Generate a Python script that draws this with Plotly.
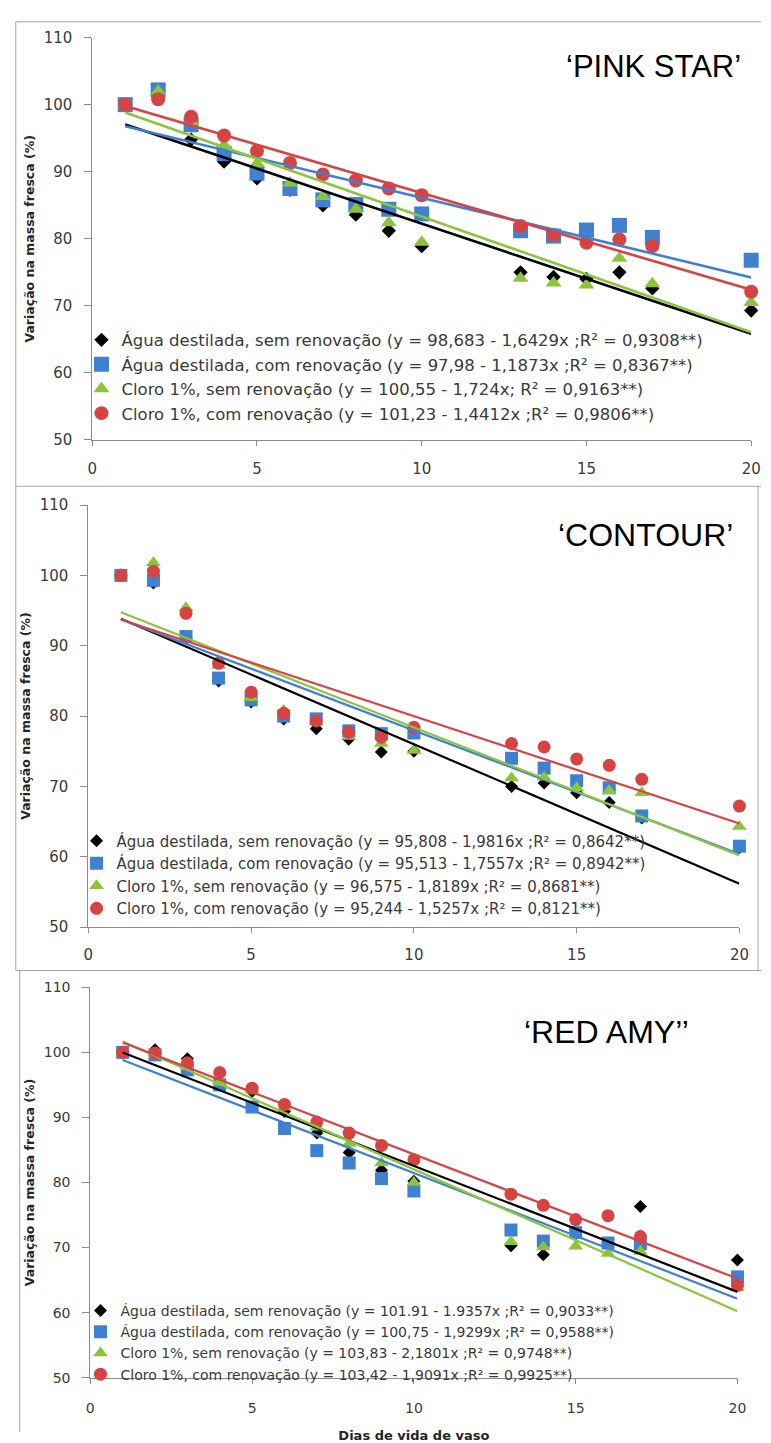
import plotly.graph_objects as go

W, H = 771, 1443

days = [1, 2, 3, 4, 5, 6, 7, 8, 9, 10, 13, 14, 15, 16, 17, 20]
x_ticks = [0, 5, 10, 15, 20]
y_ticks = [50, 60, 70, 80, 90, 100, 110]

titles = ["‘PINK STAR’", "‘CONTOUR’", "‘RED AMY’’"]
y_title = "Variação na massa fresca (%)"
x_title = "Dias de vida de vaso"

# ---- 'PINK STAR' ----
pink_agua_sem = [100, 101.9, 94.8, 91.5, 89.0, 87.3, 85.0, 83.6, 81.2, 78.9, 75.0, 74.3, 74.0, 75.0, 72.6, 69.3]
pink_agua_com = [100, 102.2, 97.0, 92.7, 89.8, 87.5, 85.8, 85.1, 84.4, 83.7, 81.2, 80.4, 81.3, 82.0, 80.2, 76.8]
pink_cloro_sem = [100, 102.0, 97.5, 94.0, 91.2, 88.3, 86.3, 84.4, 82.4, 79.5, 74.1, 73.4, 73.1, 77.1, 73.3, 70.5]
pink_cloro_com = [100, 100.8, 98.2, 95.4, 93.1, 91.3, 89.6, 88.7, 87.5, 86.5, 81.9, 80.6, 79.4, 79.9, 78.9, 72.1]
pink_intercepts = [98.683, 97.98, 100.55, 101.23]
pink_slopes = [-1.6429, -1.1873, -1.724, -1.4412]
pink_labels = [
    "Água destilada, sem renovação (y = 98,683 - 1,6429x ;R² = 0,9308**)",
    "Água destilada, com renovação (y = 97,98 - 1,1873x ;R² = 0,8367**)",
    "Cloro 1%, sem renovação (y = 100,55 - 1,724x; R² = 0,9163**)",
    "Cloro 1%, com renovação (y = 101,23 - 1,4412x ;R² = 0,9806**)",
]

# ---- 'CONTOUR' ----
contour_agua_sem = [100, 98.9, 91.0, 85.0, 82.0, 79.6, 78.2, 76.7, 74.9, 75.0, 70.0, 70.5, 69.1, 67.7, 65.5, 61.3]
contour_agua_com = [100, 99.3, 91.3, 85.4, 82.3, 80.0, 79.6, 77.9, 77.5, 77.6, 74.0, 72.6, 70.8, 69.8, 65.8, 61.5]
contour_cloro_sem = [100, 101.8, 95.4, 87.2, 82.6, 80.8, 79.4, 77.1, 76.1, 75.1, 71.2, 71.3, 69.8, 69.4, 69.1, 64.3]
contour_cloro_com = [100, 100.6, 94.6, 87.5, 83.4, 80.4, 79.3, 77.7, 77.0, 78.4, 76.1, 75.6, 73.9, 73.0, 71.0, 67.2]
contour_intercepts = [95.808, 95.513, 96.575, 95.244]
contour_slopes = [-1.9816, -1.7557, -1.8189, -1.5257]
contour_labels = [
    "Água destilada, sem renovação (y = 95,808 - 1,9816x ;R² = 0,8642**)",
    "Água destilada, com renovação (y = 95,513 - 1,7557x ;R² = 0,8942**)",
    "Cloro 1%, sem renovação (y = 96,575 - 1,8189x ;R² = 0,8681**)",
    "Cloro 1%, com renovação (y = 95,244 - 1,5257x ;R² = 0,8121**)",
]

# ---- 'RED AMY' ----
redamy_agua_sem = [100, 100.4, 99.0, 95.4, 94.0, 90.9, 87.6, 84.6, 81.9, 80.2, 70.3, 68.9, 72.1, 70.6, 76.3, 68.1]
redamy_agua_com = [100, 99.6, 97.3, 95.0, 91.6, 88.3, 84.9, 83.0, 80.6, 78.7, 72.7, 71.0, 72.3, 70.7, 70.6, 65.5]
redamy_cloro_sem = [100, 99.7, 97.8, 95.4, 94.3, 91.6, 88.5, 86.0, 83.0, 80.0, 70.9, 70.1, 70.2, 69.1, 69.4, 63.8]
redamy_cloro_com = [100, 99.9, 98.4, 96.9, 94.5, 92.0, 89.3, 87.6, 85.7, 83.5, 78.2, 76.5, 74.3, 74.9, 71.7, 64.2]
redamy_intercepts = [101.91, 100.75, 103.83, 103.42]
redamy_slopes = [-1.9357, -1.9299, -2.1801, -1.9091]
redamy_labels = [
    "Água destilada, sem renovação (y = 101.91 - 1.9357x ;R² = 0,9033**)",
    "Água destilada, com renovação (y = 100,75 - 1,9299x ;R² = 0,9588**)",
    "Cloro 1%, sem renovação (y = 103,83 - 2,1801x ;R² = 0,9748**)",
    "Cloro 1%, com renovação (y = 103,42 - 1,9091x ;R² = 0,9925**)",
]

panels = [
    dict(series=[pink_agua_sem, pink_agua_com, pink_cloro_sem, pink_cloro_com],
         a=pink_intercepts, b=pink_slopes, labels=pink_labels),
    dict(series=[contour_agua_sem, contour_agua_com, contour_cloro_sem, contour_cloro_com],
         a=contour_intercepts, b=contour_slopes, labels=contour_labels),
    dict(series=[redamy_agua_sem, redamy_agua_com, redamy_cloro_sem, redamy_cloro_com],
         a=redamy_intercepts, b=redamy_slopes, labels=redamy_labels),
]

# ---- styling / layout (pixels) ----
colors = ["#000000", "#3F80D0", "#8CC43C", "#D74343"]
symbols = ["diamond", "square", "triangle-up", "circle"]
msizes = [[11, 15, 14, 14], [10, 13, 13, 13], [10, 13, 13, 13]]
line_w = [2.6, 2.2, 2.2]

# plot-area boxes: (x0, x1, ytop, ybottom) in pixels
boxes = [(89, 761, 29, 437), (85, 749, 503, 931), (87, 747, 992, 1388)]
tick_sizes = [15, 15, 14]
x_label_standoff = [10, 9, 12]
legend_fonts = [16.5, 15, 14]
legend_pos = [(78, 318), (73, 827), (77, 1304)]
title_pos = [(661, 58), (653, 533), (613, 1037)]
title_sizes = [31, 32, 32]


def fx(px):
    return px / W


def fy(py):
    return 1 - py / H


fig = go.Figure()
leg_names = ["legend", "legend2", "legend3"]

for p, panel in enumerate(panels):
    xa = "x" if p == 0 else f"x{p+1}"
    ya = "y" if p == 0 else f"y{p+1}"
    for i in range(4):
        fig.add_trace(go.Scatter(
            x=days, y=panel["series"][i], mode="markers",
            name=panel["labels"][i], xaxis=xa, yaxis=ya,
            legend=leg_names[p],
            marker=dict(symbol=symbols[i], size=msizes[p][i], color=colors[i],
                        line=dict(width=0)),
            cliponaxis=False,
        ))
    for i in range(4):
        xs = [days[0], days[-1]]
        ys = [panel["a"][i] + panel["b"][i] * d for d in xs]
        fig.add_trace(go.Scatter(
            x=xs, y=ys, mode="lines", showlegend=False, xaxis=xa, yaxis=ya,
            line=dict(color=colors[i], width=line_w[p]), hoverinfo="skip",
        ))

layout = dict(
    width=W, height=H,
    margin=dict(l=0, r=0, t=0, b=0),
    paper_bgcolor="white", plot_bgcolor="white",
    showlegend=True,
)

axis_color = "#8C8C8C"
tick_font_color = "#3A3A3A"

for p in range(3):
    x0, x1, yt, yb = boxes[p]
    xk = "xaxis" if p == 0 else f"xaxis{p+1}"
    yk = "yaxis" if p == 0 else f"yaxis{p+1}"
    ya = "y" if p == 0 else f"y{p+1}"
    xa = "x" if p == 0 else f"x{p+1}"
    xaxis = dict(
        domain=[fx(x0), fx(x1)], anchor=ya, range=[0, 20],
        tickmode="array", tickvals=x_ticks, ticktext=[str(t) for t in x_ticks],
        showline=True, linecolor=axis_color, linewidth=1,
        ticks="outside", ticklen=5, tickcolor=axis_color,
        showgrid=False, zeroline=False, ticklabelstandoff=x_label_standoff[p],
        tickfont=dict(family="DejaVu Sans", size=tick_sizes[p], color=tick_font_color),
    )
    if p == 2:
        xaxis["title"] = dict(text=x_title, standoff=18,
                              font=dict(family="DejaVu Sans", size=13, weight="bold",
                                        color="#262626"))
    yaxis = dict(
        domain=[fy(yb), fy(yt)], anchor=xa, range=[50, 110],
        tickmode="array", tickvals=y_ticks, ticktext=[str(t) for t in y_ticks],
        showline=True, linecolor=axis_color, linewidth=1,
        ticks="outside", ticklen=7, tickcolor=axis_color,
        showgrid=False, zeroline=False, ticklabelstandoff=9,
        tickfont=dict(family="DejaVu Sans", size=tick_sizes[p], color=tick_font_color),
        title=dict(text=y_title, standoff=6,
                   font=dict(family="DejaVu Sans", size=12.5, weight="bold", color="#262626")),
    )
    layout[xk] = xaxis
    layout[yk] = yaxis
    lx, ly = legend_pos[p]
    layout[leg_names[p]] = dict(
        x=fx(lx), y=fy(ly), xanchor="left", yanchor="top",
        xref="paper", yref="paper",
        bgcolor="rgba(0,0,0,0)", borderwidth=0,
        font=dict(family="DejaVu Sans", size=legend_fonts[p], color="#3A3A3A"),
        tracegroupgap=0,
    )

annotations = []
for p in range(3):
    tx, ty = title_pos[p]
    annotations.append(dict(
        text=titles[p], x=fx(tx), y=fy(ty), xref="paper", yref="paper",
        xanchor="center", yanchor="middle", showarrow=False,
        font=dict(family="Liberation Sans", size=title_sizes[p], color="#000000"),
    ))
layout["annotations"] = annotations

frame = dict(color="#A6A6A6", width=1)
layout["shapes"] = [
    dict(type="line", xref="paper", yref="paper", x0=fx(11), x1=1, y0=fy(13), y1=fy(13), line=frame),
    dict(type="line", xref="paper", yref="paper", x0=fx(11), x1=fx(11), y0=fy(13), y1=fy(975), line=frame),
    dict(type="line", xref="paper", yref="paper", x0=fx(11), x1=1, y0=fy(484), y1=fy(484), line=frame),
    dict(type="line", xref="paper", yref="paper", x0=fx(11), x1=1, y0=fy(975), y1=fy(975), line=frame),
    dict(type="line", xref="paper", yref="paper", x0=fx(768), x1=fx(768), y0=fy(484), y1=fy(975), line=frame),
    dict(type="line", xref="paper", yref="paper", x0=fx(15), x1=fx(15), y0=fy(975), y1=0, line=frame),
]

fig.update_layout(**layout)
fig.write_html("out.html")
